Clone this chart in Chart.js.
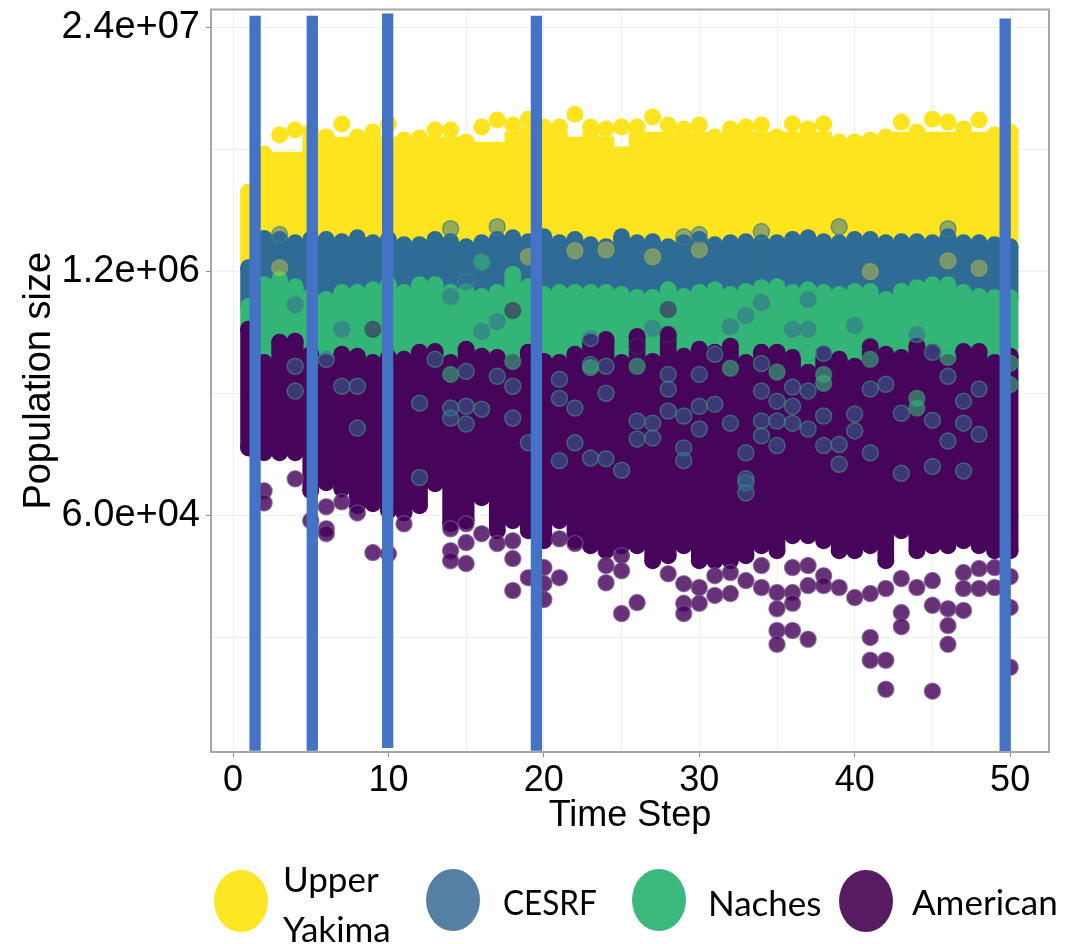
<!DOCTYPE html>
<html>
<head>
<meta charset="utf-8">
<title>Population size</title>
<script src="https://cdn.jsdelivr.net/npm/chart.js@4"></script>
<style>
    html, body { margin: 0; padding: 0; background: #fff; }
    #wrap { position: relative; width: 1081px; height: 944px; overflow: hidden; }
    #chart { position: absolute; left: 0; top: 0; filter: blur(0.6px); }
    .swatch { position: absolute; width: 54px; height: 62px; border-radius: 50%; }
    .lab { position: absolute; font-family: Lato, "Open Sans", sans-serif; font-size: 35px; line-height: 40px; color: #000; white-space: nowrap; }
</style>
</head>
<body>
<div id="wrap">
    <canvas id="chart" width="1081" height="944"></canvas>
    <div class="swatch" style="left:214px;top:870px;background:#FDE725"></div>
    <div class="lab" style="left:283px;top:858px">Upper</div>
    <div class="lab" style="left:283px;top:908px">Yakima</div>
    <div class="swatch" style="left:426px;top:869px;background:#5580A3"></div>
    <div class="lab" style="left:503px;top:881px;transform:scaleX(0.9);transform-origin:left">CESRF</div>
    <div class="swatch" style="left:632px;top:869px;background:#3BB97C"></div>
    <div class="lab" style="left:708px;top:882px">Naches</div>
    <div class="swatch" style="left:839px;top:870px;background:#571B62"></div>
    <div class="lab" style="left:912px;top:881px">American</div>
</div>
<script>
const steps = [1,2,3,4,5,6,7,8,9,10,11,12,13,14,15,16,17,18,19,20,21,22,23,24,25,26,27,28,29,30,31,32,33,34,35,36,37,38,39,40,41,42,43,44,45,46,47,48,49,50];

// top of each population's cloud, per time step
const yakimaHigh = [3.19e6,5.08e6,6.41e6,6.81e6,6.65e6,6.25e6,7.33e6,6.25e6,6.65e6,7.33e6,6.03e6,6.18e6,6.81e6,6.81e6,5.88e6,7.07e6,7.70e6,7.24e6,7.79e6,7.07e6,7.07e6,8.28e6,7.07e6,6.90e6,7.07e6,7.07e6,7.99e6,7.24e6,6.90e6,7.24e6,6.25e6,6.90e6,7.07e6,7.24e6,6.25e6,7.33e6,6.90e6,7.33e6,5.88e6,5.88e6,6.03e6,6.25e6,7.51e6,6.65e6,7.79e6,7.51e6,6.90e6,7.70e6,6.41e6,6.65e6];
// where the solid yellow starts, below the loose top dots
const yakimaBody = [3.19e6,5.08e6,5.20e6,5.20e6,6.25e6,6.25e6,6.25e6,6.25e6,6.25e6,6.25e6,6.03e6,6.18e6,6.25e6,6.25e6,5.88e6,5.88e6,5.88e6,6.65e6,7.07e6,6.65e6,6.65e6,6.25e6,6.65e6,6.25e6,5.55e6,6.65e6,6.65e6,6.65e6,6.65e6,6.65e6,6.25e6,6.65e6,6.65e6,6.65e6,6.25e6,6.65e6,6.65e6,6.65e6,5.88e6,5.88e6,6.03e6,6.25e6,6.65e6,6.65e6,6.65e6,6.65e6,6.65e6,6.65e6,6.41e6,6.65e6];
const cesrfHigh = [1.26e6,1.80e6,1.78e6,1.71e6,1.78e6,1.78e6,1.73e6,1.82e6,1.71e6,1.78e6,1.67e6,1.67e6,1.78e6,1.73e6,1.63e6,1.71e6,1.78e6,1.82e6,1.73e6,1.84e6,1.71e6,1.78e6,1.67e6,1.63e6,1.84e6,1.71e6,1.73e6,1.63e6,1.71e6,1.78e6,1.67e6,1.71e6,1.73e6,1.71e6,1.71e6,1.78e6,1.82e6,1.73e6,1.71e6,1.78e6,1.78e6,1.71e6,1.73e6,1.73e6,1.71e6,1.84e6,1.71e6,1.71e6,1.67e6,1.63e6];
const nachesHigh = [7.82e5,1.02e6,1.09e6,9.98e5,8.84e5,8.52e5,9.29e5,9.29e5,9.62e5,1.02e6,9.29e5,1.02e6,1.02e6,9.29e5,9.40e5,8.84e5,9.29e5,1.16e6,9.98e5,9.06e5,9.29e5,9.29e5,9.29e5,9.29e5,9.06e5,8.73e5,8.73e5,9.62e5,8.84e5,9.29e5,9.62e5,9.06e5,9.40e5,9.86e5,9.98e5,9.29e5,9.62e5,9.29e5,9.06e5,9.40e5,9.40e5,8.52e5,9.40e5,9.86e5,1.02e6,1.02e6,9.29e5,8.84e5,8.73e5,8.73e5];
const americanHigh = [5.91e5,3.94e5,5.04e5,5.10e5,4.35e5,3.94e5,4.35e5,4.25e5,3.94e5,4.19e5,4.09e5,4.46e5,4.51e5,3.94e5,4.63e5,4.25e5,4.19e5,3.94e5,4.46e5,3.99e5,3.94e5,4.35e5,5.04e5,5.22e5,3.94e5,5.42e5,3.99e5,5.55e5,4.25e5,4.63e5,4.46e5,4.80e5,3.94e5,4.46e5,4.46e5,4.19e5,3.49e5,4.35e5,4.09e5,3.76e5,4.74e5,4.35e5,4.19e5,4.80e5,4.46e5,3.94e5,4.51e5,4.51e5,3.94e5,4.25e5];
const americanLow = [1.38e5,1.30e5,1.30e5,1.30e5,8.15e4,8.99e4,8.35e4,6.79e4,6.95e4,6.38e4,6.22e4,6.79e4,8.88e4,5.44e4,5.65e4,7.48e4,4.99e4,5.65e4,4.99e4,4.42e4,5.65e4,4.42e4,4.16e4,3.91e4,4.16e4,4.16e4,3.46e4,3.68e4,4.16e4,3.46e4,3.46e4,3.46e4,3.68e4,4.16e4,3.91e4,4.70e4,4.70e4,4.42e4,3.91e4,3.91e4,4.16e4,3.46e4,4.99e4,3.91e4,4.16e4,4.16e4,4.42e4,4.16e4,3.91e4,3.91e4];

// single runs that stand apart from the bands: [time step, population size]
const americanDots = [[2,8.15e4],[2,7.03e4],[4,9.44e4],[5,5.65e4],[6,6.71e4],[6,5.12e4],[6,4.82e4],[7,7.12e4],[8,6.22e4],[9,3.82e4],[10,3.77e4],[11,5.44e4],[14,5.12e4],[14,3.91e4],[14,3.46e4],[15,5.44e4],[15,4.32e4],[15,3.34e4],[16,4.82e4],[17,4.27e4],[18,4.42e4],[18,3.55e4],[18,2.40e4],[19,2.81e4],[20,3.18e4],[20,2.61e4],[20,2.15e4],[21,4.53e4],[21,2.81e4],[22,4.27e4],[24,3.26e4],[24,2.64e4],[25,3.68e4],[25,3.06e4],[25,1.81e4],[26,2.07e4],[28,2.95e4],[29,2.61e4],[29,2.05e4],[29,1.81e4],[30,2.49e4],[30,2.05e4],[31,2.88e4],[31,2.26e4],[32,2.99e4],[32,2.31e4],[33,2.71e4],[34,3.26e4],[34,2.49e4],[35,2.34e4],[35,1.92e4],[35,1.47e4],[35,1.24e4],[36,3.18e4],[36,2.34e4],[36,2.05e4],[36,1.47e4],[37,3.26e4],[37,2.55e4],[37,1.32e4],[38,2.88e4],[38,2.55e4],[39,2.49e4],[40,2.20e4],[41,2.31e4],[41,1.35e4],[41,1.02e4],[42,2.46e4],[42,1.02e4],[42,7.15e3],[43,2.78e4],[43,1.83e4],[43,1.54e4],[44,2.49e4],[45,2.71e4],[45,2.00e4],[45,6.98e3],[46,1.92e4],[46,1.56e4],[46,1.24e4],[47,2.99e4],[47,2.46e4],[47,1.88e4],[48,3.14e4],[48,2.46e4],[49,3.18e4],[49,2.49e4],[50,2.85e4],[50,1.95e4],[50,9.36e3]];
const americanFaint = [[18,7.45e5],[28,7.54e5],[28,5.55e5],[26,4.80e5],[9,5.91e5],[41,4.80e5]];
const cesrfDots = [[4,3.76e5],[4,2.77e5],[6,4.09e5],[7,2.94e5],[8,1.76e5],[8,2.94e5],[12,2.39e5],[13,4.09e5],[14,2.25e5],[14,1.99e5],[15,2.30e5],[15,1.85e5],[15,3.53e5],[16,2.22e5],[17,3.32e5],[18,2.94e5],[18,1.99e5],[19,1.47e5],[21,3.20e5],[21,2.54e5],[22,2.25e5],[23,3.84e5],[23,5.29e5],[24,2.70e5],[24,3.76e5],[22,1.47e5],[21,1.18e5],[23,1.22e5],[24,1.21e5],[25,1.05e5],[12,9.60e4],[15,1.06e6],[14,8.84e5],[4,8.00e5],[17,6.51e5],[16,5.77e5],[7,5.91e5],[14,2.03e6],[17,2.08e6],[3,1.89e6],[30,1.89e6],[29,1.84e6],[34,1.96e6],[39,2.08e6],[46,2.03e6],[32,6.12e5],[34,8.21e5],[33,7.01e5],[37,8.52e5],[36,5.91e5],[37,5.91e5],[40,6.20e5],[27,5.98e5],[31,4.35e5],[45,4.46e5],[44,5.55e5],[30,3.40e5],[34,3.89e5],[38,4.40e5],[37,2.77e5],[36,2.91e5],[34,2.77e5],[28,3.40e5],[28,2.84e5],[41,2.84e5],[42,3.01e5],[46,3.32e5],[48,2.84e5],[47,2.45e5],[30,2.30e5],[31,2.36e5],[28,2.17e5],[29,2.04e5],[27,1.87e5],[26,1.92e5],[26,1.54e5],[27,1.56e5],[30,1.74e5],[32,1.87e5],[34,1.92e5],[35,1.92e5],[36,1.87e5],[38,2.04e5],[35,2.45e5],[36,2.30e5],[37,1.74e5],[40,2.09e5],[40,1.70e5],[43,2.11e5],[45,1.94e5],[47,1.87e5],[34,1.60e5],[38,1.42e5],[39,1.44e5],[41,1.30e5],[46,1.50e5],[29,1.38e5],[29,1.18e5],[33,1.30e5],[35,1.42e5],[39,1.13e5],[43,1.01e5],[47,1.04e5],[45,1.10e5],[33,9.44e4],[48,1.63e5],[33,8.99e4],[33,7.95e4]];
const nachesDots = [[26,3.76e5],[38,3.05e5],[44,2.54e5],[44,2.25e5],[18,3.99e5],[16,1.35e6],[14,3.40e5],[23,3.70e5],[35,3.50e5],[32,3.67e5],[37,4.40e5],[38,3.40e5],[41,4.09e5],[46,4.19e5],[50,3.90e5],[50,3.00e5]];
const yakimaDots = [[3,1.26e6],[19,1.44e6],[22,1.55e6],[24,1.57e6],[27,1.44e6],[30,1.57e6],[41,1.20e6],[46,1.37e6],[48,1.25e6]];

// the blue marker bars laid over the plot: [time step, top, bottom]
const markers = [[1.42,2.77e7,3.36e3],[5.1,2.77e7,3.36e3],[9.95,2.85e7,3.48e3],[19.52,2.77e7,3.36e3],[49.68,2.68e7,3.27e3]];

const xTicks = [0,5,10,15,20,25,30,35,40,45,50];
const xLabelled = [0,10,20,30,40,50];
const yTicks = [1.342e4,6e4,2.683e5,1.2e6,5.367e6,2.4e7];
const yLabelled = [6e4,1.2e6,2.4e7];

const yellow = '#FDE41E', blue = '#2F6C95', green = '#33B577', purple = '#46045A';

function band(lows, highs, color) {
    return {
        type: 'bar',
        data: steps.map((s, i) => ({ x: s, y: [lows[i], highs[i]] })),
        backgroundColor: color,
        borderWidth: 0,
        borderSkipped: false,
        barThickness: 16,
        grouped: false
    };
}

function dots(points, fill, ring) {
    return {
        type: 'scatter',
        data: points.map(p => ({ x: p[0], y: p[1] })),
        backgroundColor: fill,
        borderColor: ring || fill,
        borderWidth: ring ? 1.5 : 0,
        pointRadius: ring ? 8 : 8.5,
        showLine: false
    };
}

const pairs = values => steps.map((s, i) => [s, values[i]]);

const datasets = [
    band(cesrfHigh, yakimaBody, yellow),
    dots(pairs(yakimaHigh), yellow),
    band(nachesHigh, cesrfHigh, blue),
    dots(pairs(cesrfHigh), blue),
    band(americanHigh, nachesHigh, green),
    dots(pairs(nachesHigh), green),
    band(americanLow, americanHigh, purple),
    dots(pairs(americanHigh), purple),
    dots(pairs(americanLow), purple),
    dots(americanDots, 'rgba(70,4,90,0.82)', 'rgba(120,80,140,0.7)'),
    dots(americanFaint, 'rgba(70,4,90,0.5)', 'rgba(50,70,90,0.5)'),
    dots(yakimaDots, 'rgba(253,228,30,0.35)', 'rgba(170,170,90,0.55)'),
    dots(cesrfDots, 'rgba(47,108,149,0.5)', 'rgba(70,130,125,0.7)'),
    dots(nachesDots, 'rgba(51,181,119,0.6)', 'rgba(70,150,130,0.55)')
];

markers.forEach(m => {
    datasets.push({
        type: 'line',
        data: [{ x: m[0], y: m[1] }, { x: m[0], y: m[2] }],
        borderColor: '#4472C4',
        borderWidth: 11.3,
        borderCapStyle: 'butt',
        pointRadius: 0,
        clip: false
    });
});

// later entries sit on top
datasets.forEach((d, i) => { d.order = datasets.length - i; });

const panelBorder = {
    id: 'panelBorder',
    afterDatasetsDraw(chart) {
        const { ctx, chartArea: a } = chart;
        ctx.save();
        ctx.strokeStyle = '#a6a6a6';
        ctx.lineWidth = 2;
        ctx.strokeRect(a.left, a.top, a.right - a.left, a.bottom - a.top);
        ctx.restore();
    }
};

new Chart(document.getElementById('chart'), {
    type: 'scatter',
    data: { datasets: datasets },
    plugins: [panelBorder],
    options: {
        responsive: false,
        animation: false,
        layout: { padding: { top: 7, right: 32, bottom: 102, left: 0 } },
        plugins: { legend: { display: false }, tooltip: { enabled: false } },
        scales: {
            x: {
                type: 'linear',
                min: -1.416,
                max: 52.5,
                offset: false,
                afterBuildTicks: s => { s.ticks = xTicks.map(v => ({ value: v })); },
                afterFit: s => { s.height = 90; },
                grid: {
                    offset: false,
                    color: '#efefef',
                    lineWidth: 1,
                    tickLength: 5,
                    tickColor: c => xLabelled.includes(c.tick.value) ? '#8a8a8a' : 'rgba(0,0,0,0)'
                },
                border: { display: false },
                ticks: {
                    autoSkip: false,
                    maxRotation: 0,
                    padding: 2,
                    color: '#000',
                    font: { family: '"Liberation Sans"', size: 36 },
                    callback: v => xLabelled.includes(v) ? String(v) : ''
                },
                title: {
                    display: true,
                    text: 'Time Step',
                    color: '#000',
                    font: { family: '"Liberation Sans"', size: 36 },
                    padding: { top: 0, bottom: 4 }
                }
            },
            y: {
                type: 'logarithmic',
                min: 3.31e3,
                max: 2.99e7,
                afterBuildTicks: s => { s.ticks = yTicks.map(v => ({ value: v })); },
                // the top label may hang above the panel, so no room is reserved for it
                afterFit: s => { s.width = 211; s.paddingTop = 0; s.paddingBottom = 0; },
                grid: {
                    color: '#efefef',
                    lineWidth: 1,
                    tickLength: 5,
                    tickColor: c => yLabelled.includes(c.tick.value) ? '#8a8a8a' : 'rgba(0,0,0,0)'
                },
                border: { display: false },
                ticks: {
                    autoSkip: false,
                    padding: 6,
                    color: '#000',
                    font: { family: '"Liberation Sans"', size: 38 },
                    callback: v => yLabelled.includes(v) ? v.toExponential(1).replace(/e\+(\d)$/, 'e+0$1') : ''
                },
                title: {
                    display: true,
                    text: 'Population size',
                    color: '#000',
                    font: { family: '"Liberation Sans"', size: 38 },
                    padding: { top: 17, bottom: 0 }
                }
            }
        }
    }
});
</script>
</body>
</html>
